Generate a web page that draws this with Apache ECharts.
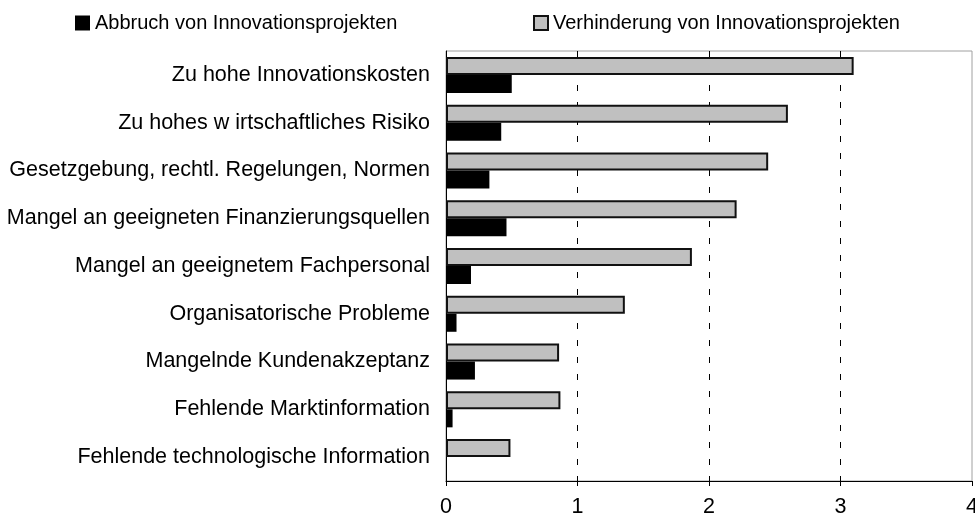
<!DOCTYPE html>
<html>
<head>
<meta charset="utf-8">
<script src="https://cdn.jsdelivr.net/npm/echarts@6/dist/echarts.min.js"></script>
<style>
  html, body { margin: 0; padding: 0; background: #fff; }
  #chart { width: 975px; height: 519px; }
</style>
</head>
<body>
<div id="chart"></div>
<script>
// Kategorien von oben nach unten
const categories = [
  'Zu hohe Innovationskosten',
  'Zu hohes w irtschaftliches Risiko',
  'Gesetzgebung, rechtl. Regelungen, Normen',
  'Mangel an geeigneten Finanzierungsquellen',
  'Mangel an geeignetem Fachpersonal',
  'Organisatorische Probleme',
  'Mangelnde Kundenakzeptanz',
  'Fehlende Marktinformation',
  'Fehlende technologische Information'
]
const abbruch = [0.5, 0.42, 0.33, 0.46, 0.19, 0.08, 0.22, 0.05, 0]
const verhinderung = [3.1, 2.6, 2.45, 2.21, 1.87, 1.36, 0.86, 0.87, 0.49]
const seriesNames = ['Abbruch von Innovationsprojekten', 'Verhinderung von Innovationsprojekten']

const font = "'Liberation Sans', Arial, sans-serif"
const chart = echarts.init(document.getElementById('chart'))

chart.setOption({
  animation: false,
  backgroundColor: '#fff',
  textStyle: { fontFamily: font, color: '#000' },
  legend: [
    {
      data: [seriesNames[0]],
      left: 75, top: 13, padding: 0,
      icon: 'rect', itemWidth: 15, itemHeight: 15,
      textStyle: { fontFamily: font, fontSize: 20, color: '#000' }
    },
    {
      data: [seriesNames[1]],
      left: 533, top: 13, padding: 0,
      icon: 'rect', itemWidth: 14, itemHeight: 14,
      textStyle: { fontFamily: font, fontSize: 20, color: '#000' }
    }
  ],
  grid: {
    left: 446, right: 3, top: 51, bottom: 38,
    outerBoundsMode: 'none',
    show: true, borderColor: '#a0a0a0', borderWidth: 1
  },
  xAxis: {
    type: 'value',
    min: 0, max: 4, interval: 1,
    axisLine: { show: true, lineStyle: { color: '#000', width: 1 } },
    axisTick: { show: true, length: 5, lineStyle: { color: '#000' } },
    axisLabel: { fontFamily: font, fontSize: 21.5, color: '#000', margin: 15 },
    splitLine: {
      show: true, showMinLine: false, showMaxLine: false,
      lineStyle: { color: '#000', width: 1, type: [6, 11] }
    }
  },
  yAxis: {
    type: 'category',
    inverse: true,
    data: categories,
    axisLine: { show: true, lineStyle: { color: '#000', width: 1 } },
    axisTick: { show: false },
    axisLabel: { fontFamily: font, fontSize: 21.5, color: '#000', margin: 16 }
  },
  // graue Serie zuerst, damit sie oben im Paar liegt
  series: [
    {
      name: seriesNames[1],
      type: 'bar',
      data: verhinderung,
      barWidth: 18,
      barGap: '0%',
      itemStyle: { color: '#c0c0c0', borderColor: '#111', borderWidth: 2 }
    },
    {
      name: seriesNames[0],
      type: 'bar',
      data: abbruch,
      barWidth: 18,
      barGap: '0%',
      itemStyle: { color: '#000' }
    }
  ]
})
</script>
</body>
</html>
